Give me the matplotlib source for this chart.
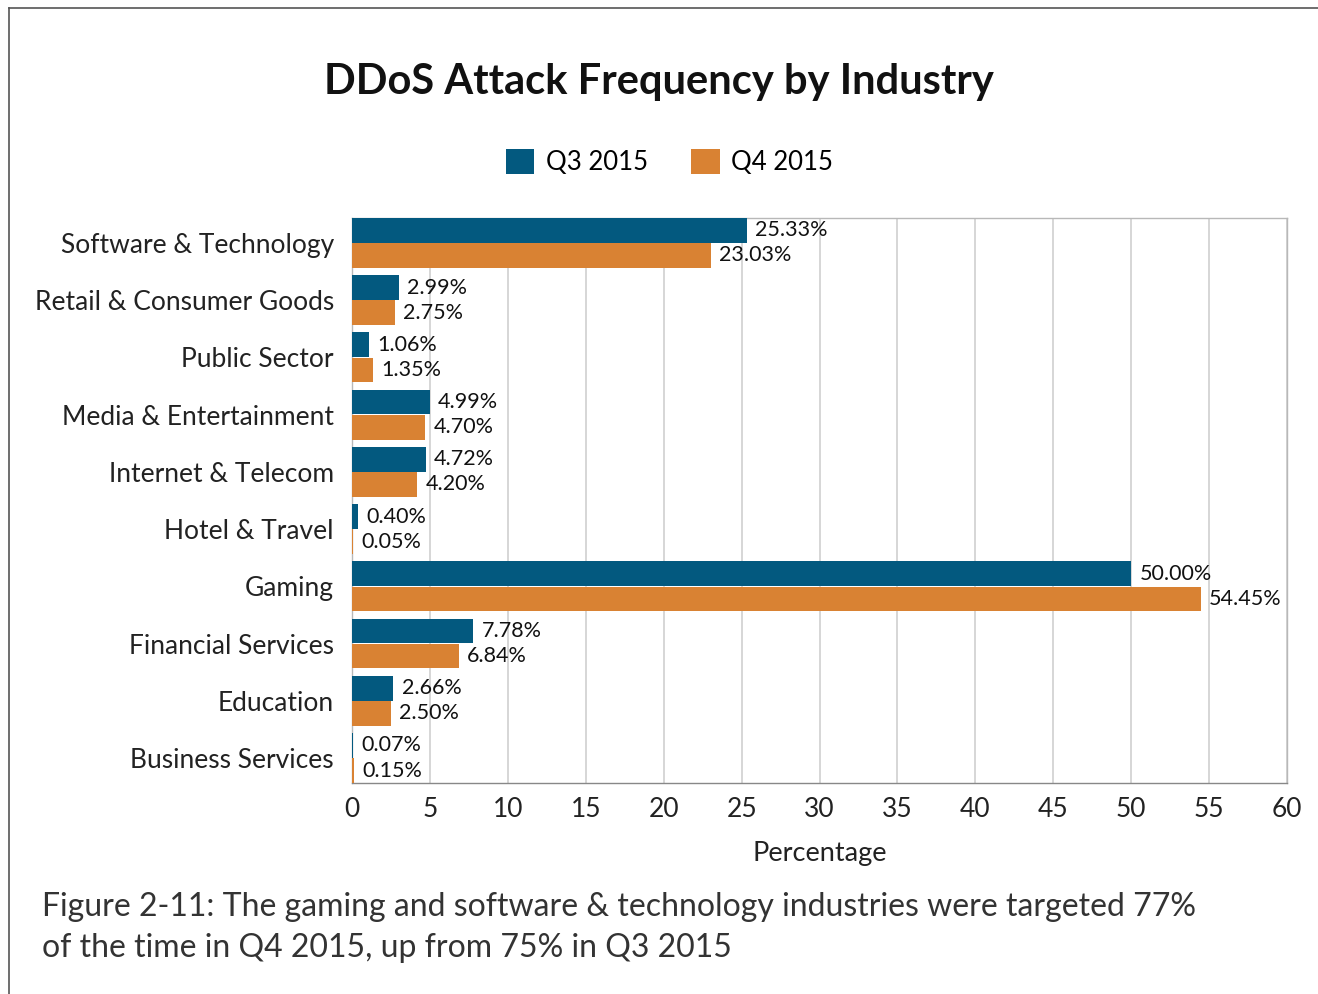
import matplotlib.pyplot as plt
from matplotlib.lines import Line2D
import numpy as np

plt.rcParams['font.family'] = ['Lato', 'DejaVu Sans']

industries = ["Software & Technology", "Retail & Consumer Goods", "Public Sector",
              "Media & Entertainment", "Internet & Telecom", "Hotel & Travel",
              "Gaming", "Financial Services", "Education", "Business Services"]
q3_2015 = [25.33, 2.99, 1.06, 4.99, 4.72, 0.40, 50.00, 7.78, 2.66, 0.07]
q4_2015 = [23.03, 2.75, 1.35, 4.70, 4.20, 0.05, 54.45, 6.84, 2.50, 0.15]
xticks = list(range(0, 61, 5))

blue = "#03597F"
orange = "#D98233"

fig = plt.figure(figsize=(13.18, 9.94), dpi=100)
ax = fig.add_axes([0.2671, 0.2123, 0.7094, 0.5684])

# top category first
y = np.arange(len(industries))[::-1]
h = 0.43
b1 = ax.barh(y + 0.22, q3_2015, height=h, color=blue, label="Q3 2015", zorder=3)
b2 = ax.barh(y - 0.22, q4_2015, height=h, color=orange, label="Q4 2015", zorder=3)

for bars, vals in ((b1, q3_2015), (b2, q4_2015)):
    for bar, v in zip(bars, vals):
        ax.annotate(f"{v:.2f}%", xy=(v, bar.get_y() + bar.get_height() / 2),
                    xytext=(6, 0), textcoords="offset points",
                    va="center", ha="left", fontsize=15.5, color="#111111", zorder=4)

ax.set_xlim(0, 60)
ax.set_ylim(-0.435, len(industries) - 1 + 0.435)
ax.set_xticks(xticks)
ax.set_xticklabels([str(t) for t in xticks], fontsize=19, color="#222222")
ax.set_yticks(y)
ax.set_yticklabels(industries, fontsize=19, color="#222222")
ax.tick_params(axis="both", length=0)
ax.tick_params(axis="x", pad=10)
ax.tick_params(axis="y", pad=13)
ax.grid(axis="x", color="#D0D0D0", linewidth=1.2, zorder=0)
for s in ax.spines.values():
    s.set_color("#B8B8B8")
    s.set_linewidth(1.0)
ax.spines["bottom"].set_color("#888888")
ax.set_xlabel("Percentage", fontsize=19.5, color="#222222", labelpad=14)

fig.text(0.5, 0.918, "DDoS Attack Frequency by Industry", ha="center", va="center",
         fontsize=30, fontweight="bold", color="#111111")
fig.legend(handles=[b1, b2], loc="center", bbox_to_anchor=(0.508, 0.837), ncol=2,
           frameon=False, fontsize=18.5, handlelength=1.1, handleheight=1.1,
           columnspacing=1.7, handletextpad=0.45)

fig.text(0.032, 0.0669, "Figure 2-11: The gaming and software & technology industries were targeted 77%\n"
         "of the time in Q4 2015, up from 75% in Q3 2015",
         ha="left", va="center", fontsize=23, color="#333333", linespacing=1.45)

# outer frame: left and top edges only
fig.add_artist(Line2D([0.0072, 0.0072], [0.0, 0.992], transform=fig.transFigure, color="#555555", linewidth=1.2))
fig.add_artist(Line2D([0.0072, 1.0], [0.992, 0.992], transform=fig.transFigure, color="#555555", linewidth=1.2))

fig.savefig("out.png", dpi=100)
